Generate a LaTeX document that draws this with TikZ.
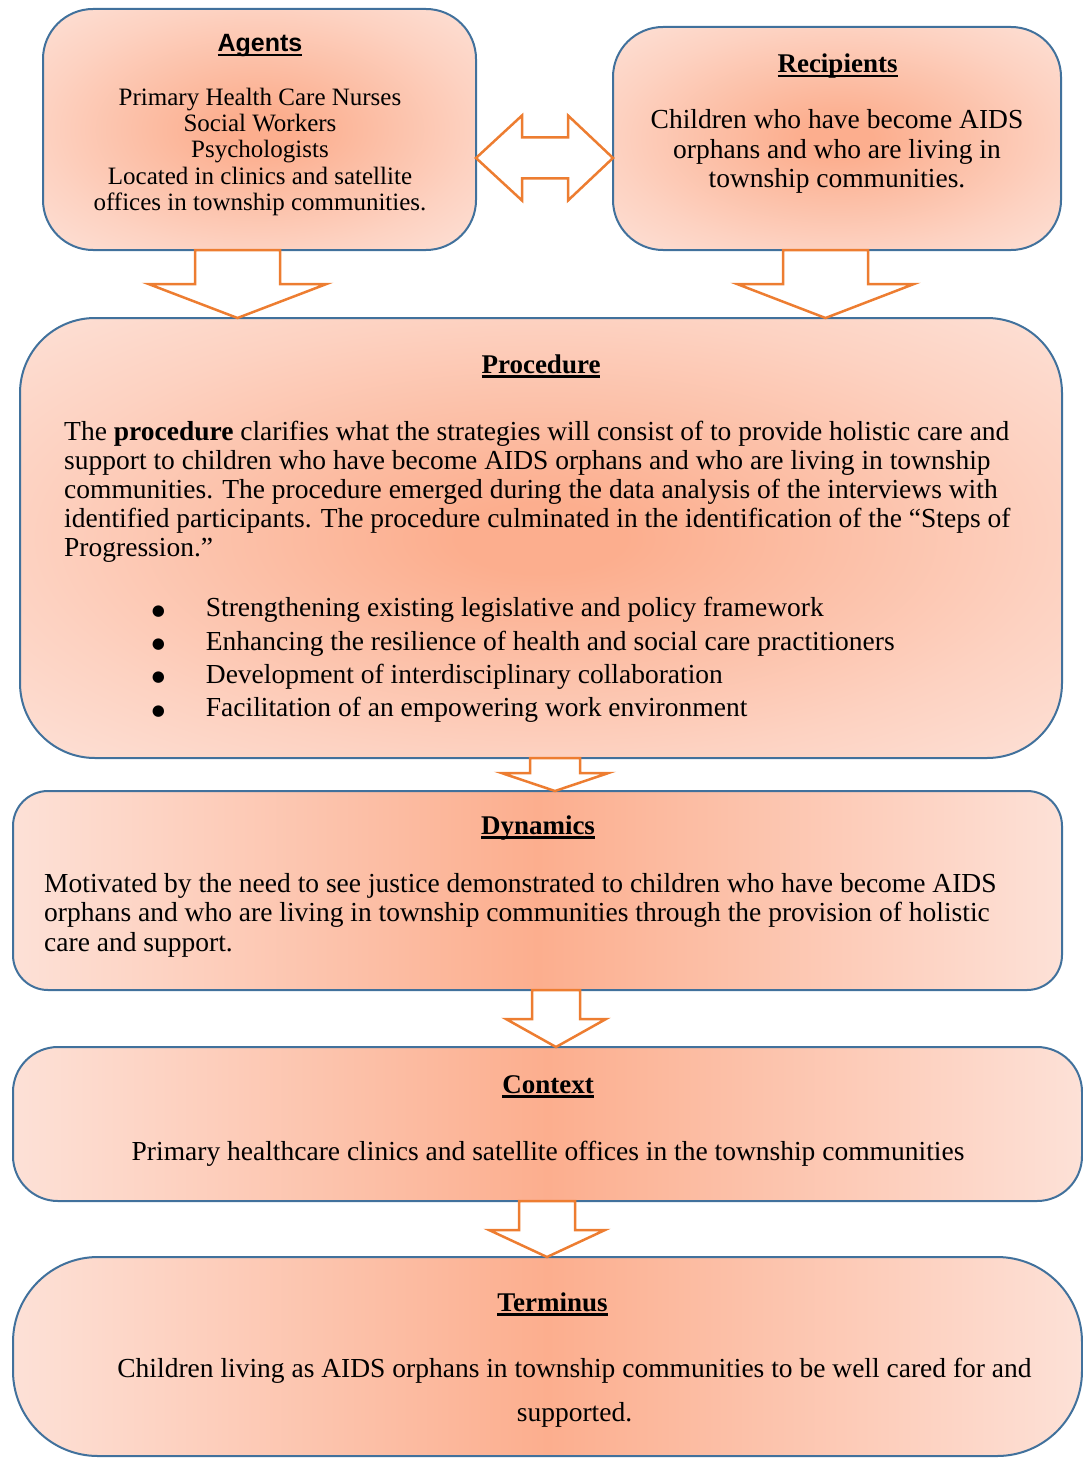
\documentclass[tikz,border=0pt]{standalone}
\usepackage{fontspec}
\usepackage{tikz}
\usetikzlibrary{calc}
\setmainfont{Liberation Serif}
\newfontfamily\arialfont{Liberation Sans}
\newfontfamily\dotfont{DejaVu Sans}

\definecolor{boxline}{HTML}{41719C}
\definecolor{arrowline}{HTML}{ED7D31}
\definecolor{glowin}{HTML}{FCAE8E}
\definecolor{glowout}{HTML}{FDE1D7}
\colorlet{glowmid}{glowin!30!glowout}

\pgfdeclareradialshading{boxglow}{\pgfpointorigin}{color(0bp)=(glowin); color(4bp)=(glowin); color(25bp)=(glowmid); color(36bp)=(glowout); color(50bp)=(glowout)}
\pgfdeclarehorizontalshading{bandglow}{100bp}{color(0bp)=(glowout); color(25bp)=(glowout); color(50bp)=(glowin); color(75bp)=(glowout); color(100bp)=(glowout)}

\newcommand{\ulword}[1]{\setbox0\hbox{#1}\rlap{\rule[-4.5pt]{\wd0}{2.2pt}}\box0}
\newcommand{\bigdot}{\makebox[0pt]{\raisebox{1.5pt}{\dotfont\fontsize{15}{15}\selectfont ●}}\hspace{47.4pt}}
\newcommand{\blockdown}[5]{\draw[blockarrow] let \p1=(#1), \p2=(#2) in
  (\x1-#3pt,\y1) -- (\x1-#3pt,\y2+#5pt) -- (\x1-#4pt,\y2+#5pt) -- (\x1,\y2)
  -- (\x1+#4pt,\y2+#5pt) -- (\x1+#3pt,\y2+#5pt) -- (\x1+#3pt,\y1) -- cycle;}

\begin{document}
\begin{tikzpicture}[x=1pt,y=-1pt,
  box/.style={draw=boxline,line width=2pt,rounded corners=#1,inner sep=0pt,outer sep=0pt,shade},
  box/.default=45,
  headtext/.style={font=\bfseries\fontsize{27}{29}\selectfont,inner sep=0pt,anchor=base},
  bodytext/.style={font=\fontsize{27.5}{29}\selectfont,inner sep=0pt,anchor=base},
  blockarrow/.style={draw=arrowline,line width=2.5pt,fill=white,line join=miter}]
\useasboundingbox (0,0) rectangle (1083,1458);

% boxes
\node[box=50,shading=boxglow,minimum width=433,minimum height=241] (agents) at (259.5,129.5) {};
\node[box=50,shading=boxglow,minimum width=448,minimum height=223] (recipients) at (837,138.5) {};
\node[box=75,shading=boxglow,minimum width=1042,minimum height=440] (proc) at (541,538) {};
\node[box=35,shading=bandglow,minimum width=1049,minimum height=199] (dyn) at (537.5,890.5) {};
\node[box=45,shading=bandglow,minimum width=1069,minimum height=154] (context) at (547.5,1124) {};
\node[box=85,shading=bandglow,minimum width=1069,minimum height=199] (terminus) at (547.5,1356.5) {};

% texts (multi-line nodes sit on their last baseline)
\node[headtext,font=\arialfont\bfseries\fontsize{25}{27}\selectfont] (agentshead) at (260,52) {\ulword{Agents}};
\node[bodytext,font=\fontsize{25}{26.4}\selectfont,align=center] (agentsbody) at (260,210.6)
  {Primary Health Care Nurses\\Social Workers\\Psychologists\\Located in clinics and satellite\\offices in township communities.};

\node[headtext] (recipientshead) at (837.5,73) {\ulword{Recipients}};
\node[bodytext,font=\fontsize{27.5}{29.5}\selectfont,align=center] (recipientsbody) at (837,188)
  {Children who have become AIDS\\orphans and who are living in\\township communities.};

\node[headtext] (prochead) at (541,373) {\ulword{Procedure}};
\node[bodytext,anchor=base west,align=left] (procbody) at (64,556)
  {The \textbf{procedure} clarifies what the strategies will consist of to provide holistic care and\\
   support to children who have become AIDS orphans and who are living in township\\
   communities. The procedure emerged during the data analysis of the interviews with\\
   identified participants. The procedure culminated in the identification of the “Steps of\\
   Progression.”};
\node[bodytext,font=\fontsize{27.5}{33.3}\selectfont,anchor=base west,align=left] (procsteps) at (158.3,716.6)
  {\bigdot Strengthening existing legislative and policy framework\\
   \bigdot Enhancing the resilience of health and social care practitioners\\
   \bigdot Development of interdisciplinary collaboration\\
   \bigdot Facilitation of an empowering work environment};

\node[headtext] (dynhead) at (538,834) {\ulword{Dynamics}};
\node[bodytext,font=\fontsize{27.5}{29.5}\selectfont,anchor=base west,align=left] (dynbody) at (44,951)
  {Motivated by the need to see justice demonstrated to children who have become AIDS\\
   orphans and who are living in township communities through the provision of holistic\\
   care and support.};

\node[headtext] (contexthead) at (548,1093) {\ulword{Context}};
\node[bodytext] (contextbody) at (548,1160)
  {Primary healthcare clinics and satellite offices in the township communities};

\node[headtext] (terminushead) at (552.5,1311) {\ulword{Terminus}};
\node[bodytext,font=\fontsize{27.5}{44}\selectfont,align=center] (terminusbody) at (574.5,1421)
  {Children living as AIDS orphans in township communities to be well cared for and\\supported.};

% arrows
\coordinate (linkl) at ($(agents.east)+(0,28.5)$);
\draw[blockarrow] let \p1=(linkl), \p2=(linkl -| recipients.west) in
  (\x1,\y1) -- (\x1+46pt,\y1+42.5pt) -- (\x1+46pt,\y1+20.5pt) -- (\x2-45pt,\y1+20.5pt)
  -- (\x2-45pt,\y1+42.5pt) -- (\x2,\y1) -- (\x2-45pt,\y1-42.5pt) -- (\x2-45pt,\y1-20.5pt)
  -- (\x1+46pt,\y1-20.5pt) -- (\x1+46pt,\y1-42.5pt) -- cycle;

\coordinate (agentsout) at ($(agents.south)+(-22,0)$);
\coordinate (recipientsout) at ($(recipients.south)+(-11.5,0)$);
\coordinate (procout) at ($(proc.south)+(14,0)$);
\coordinate (dynout) at ($(dyn.south)+(18.5,0)$);
\coordinate (contextout) at ($(context.south)+(-0.5,0)$);
\blockdown{agentsout}{agentsout |- proc.north}{42.5}{89}{34}
\blockdown{recipientsout}{recipientsout |- proc.north}{42.5}{88.5}{34}
\blockdown{procout}{procout |- dyn.north}{25}{53.5}{18}
\blockdown{dynout}{dynout |- context.north}{24}{50}{28}
\blockdown{contextout}{contextout |- terminus.north}{28}{58}{27}
\end{tikzpicture}
\end{document}
